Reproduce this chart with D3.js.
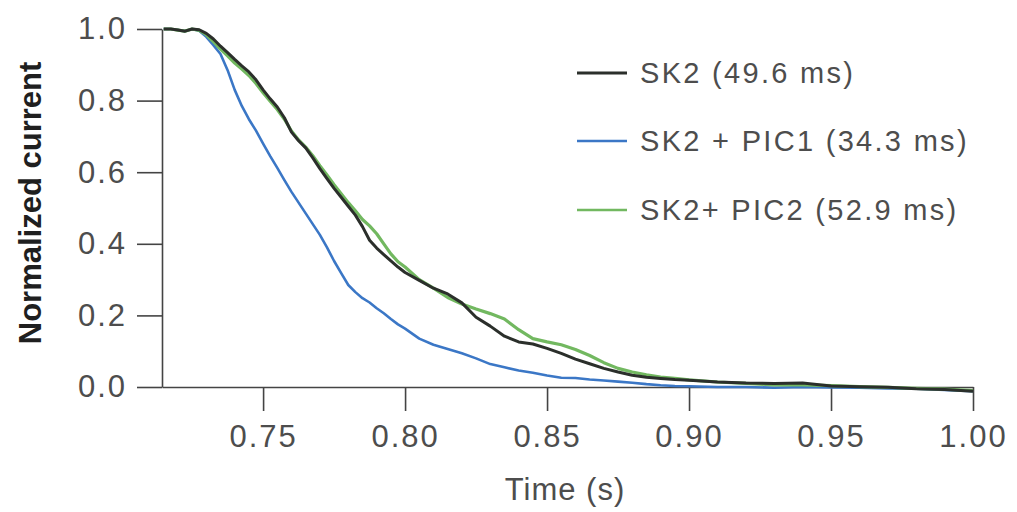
<!DOCTYPE html>
<html>
<head>
<meta charset="utf-8">
<script src="https://cdn.jsdelivr.net/npm/d3@7"></script>
<style>
  body { margin: 0; background: #fff; }
  .chart text { font-family: "Liberation Sans", Arial, sans-serif; fill: #4d4d4d; }
</style>
</head>
<body>
<div class="chart"></div>
<script>
// time points (s) shared by the three traces
const timePoints = [
  0.7150, 0.7175, 0.7200, 0.7225, 0.7250, 0.7275, 0.7300, 0.7325, 0.7350, 0.7375,
  0.7400, 0.7425, 0.7450, 0.7475, 0.7500, 0.7525, 0.7550, 0.7575, 0.7600, 0.7625,
  0.7650, 0.7675, 0.7700, 0.7725, 0.7750, 0.7775, 0.7800, 0.7825, 0.7850, 0.7875,
  0.7900, 0.7925, 0.7950, 0.7975, 0.8000,
  0.805, 0.810, 0.815, 0.820, 0.825, 0.830, 0.835, 0.840, 0.845, 0.850,
  0.855, 0.860, 0.865, 0.870, 0.875, 0.880, 0.885, 0.890, 0.895, 0.900,
  0.91, 0.92, 0.93, 0.94, 0.95, 0.96, 0.97, 0.98, 0.99, 1.00
];

const sk2Values = [
  1.000, 1.000, 0.997, 0.994, 1.000, 0.998, 0.988, 0.972, 0.952, 0.934,
  0.915, 0.897, 0.880, 0.858, 0.830, 0.805, 0.782, 0.752, 0.712, 0.688,
  0.668, 0.640, 0.610, 0.582, 0.555, 0.530, 0.505, 0.480, 0.448, 0.410,
  0.388, 0.370, 0.352, 0.335, 0.320,
  0.298, 0.276, 0.260, 0.235, 0.195, 0.170, 0.142, 0.126, 0.120, 0.108,
  0.094, 0.078, 0.065, 0.052, 0.042, 0.033, 0.027, 0.024, 0.021, 0.019,
  0.014, 0.011, 0.010, 0.011, 0.003, 0.001, -0.001, -0.005, -0.007, -0.012
];

const pic1Values = [
  1.000, 1.000, 0.997, 0.994, 1.000, 0.995, 0.978, 0.955, 0.930, 0.885,
  0.830, 0.785, 0.748, 0.716, 0.680, 0.645, 0.612, 0.578, 0.545, 0.515,
  0.485, 0.455, 0.425, 0.390, 0.352, 0.318, 0.285, 0.265, 0.248, 0.236,
  0.220, 0.206, 0.190, 0.175, 0.163,
  0.135, 0.118, 0.106, 0.094, 0.080, 0.064, 0.055, 0.046, 0.040, 0.032,
  0.026, 0.025, 0.021, 0.018, 0.015, 0.012, 0.008, 0.005, 0.003, 0.002,
  0.000, 0.000, -0.002, 0.000, -0.001, -0.002, -0.004, -0.005, -0.008, -0.012
];

const pic2Values = [
  1.000, 1.000, 0.997, 0.994, 1.000, 0.996, 0.984, 0.965, 0.944, 0.925,
  0.905, 0.888, 0.870, 0.848, 0.822, 0.798, 0.775, 0.748, 0.715, 0.690,
  0.670, 0.646, 0.618, 0.592, 0.565, 0.540, 0.515, 0.492, 0.468, 0.450,
  0.428, 0.400, 0.372, 0.350, 0.335,
  0.300, 0.276, 0.250, 0.232, 0.218, 0.205, 0.190, 0.160, 0.135, 0.126,
  0.118, 0.105, 0.088, 0.068, 0.052, 0.042, 0.034, 0.028, 0.024, 0.020,
  0.014, 0.010, 0.006, 0.006, 0.004, 0.001, -0.001, -0.004, -0.006, -0.010
];

const seriesLabels = ['SK2 (49.6 ms)', 'SK2 + PIC1 (34.3 ms)', 'SK2+ PIC2 (52.9 ms)'];
const seriesColors = ['#2b2f2b', '#3b77c6', '#72b860'];
const xTicks = [0.75, 0.80, 0.85, 0.90, 0.95, 1.00];
const yTicks = [0.0, 0.2, 0.4, 0.6, 0.8, 1.0];

class DecayChart {
  constructor() {
    this._width = 1017;
    this._height = 512;

    this.x = d3.scaleLinear().domain([0.7144, 1.0]).range([162, 973]);
    this.y = d3.scaleLinear().domain([0, 1]).range([387, 29]);

    this.svg = d3.select('.chart')
      .append('svg')
      .attr('width', this._width)
      .attr('height', this._height);
  }

  drawAxes() {
    const xAxis = this.svg.append('g')
      .attr('transform', `translate(0,${this.y(0)})`)
      .call(d3.axisBottom(this.x)
        .tickValues(xTicks)
        .tickFormat(d3.format('.2f'))
        .tickSizeInner(24)
        .tickSizeOuter(0)
        .tickPadding(14));

    const yAxis = this.svg.append('g')
      .attr('transform', `translate(${this.x.range()[0]},0)`)
      .call(d3.axisLeft(this.y)
        .tickValues(yTicks)
        .tickFormat(d3.format('.1f'))
        .tickSizeInner(25)
        .tickSizeOuter(0)
        .tickPadding(10));

    [xAxis, yAxis].forEach(g => {
      g.select('.domain').attr('stroke', '#444').attr('stroke-width', 1.6);
      g.selectAll('.tick line').attr('stroke', '#444').attr('stroke-width', 1.6);
      g.selectAll('.tick text')
        .attr('fill', '#4d4d4d')
        .style('font-size', '31px')
        .style('letter-spacing', '2px');
    });

    this.svg.append('text')
      .attr('x', 565)
      .attr('y', 500)
      .attr('text-anchor', 'middle')
      .style('font-size', '31px')
      .style('letter-spacing', '1px')
      .text('Time (s)');

    this.svg.append('text')
      .attr('transform', 'translate(41,203) rotate(-90)')
      .attr('text-anchor', 'middle')
      .style('font-size', '31px')
      .style('font-weight', 'bold')
      .style('fill', '#1f1f1f')
      .text('Normalized current');
    return this;
  }

  drawLines() {
    const line = d3.line()
      .x(d => this.x(d[0]))
      .y(d => this.y(d[1]));

    const traces = [
      { values: pic1Values, color: seriesColors[1], width: 2.6 },
      { values: pic2Values, color: seriesColors[2], width: 3.2 },
      { values: sk2Values, color: seriesColors[0], width: 3 }
    ];

    traces.forEach(t => {
      this.svg.append('path')
        .datum(timePoints.map((tp, i) => [tp, t.values[i]]))
        .attr('fill', 'none')
        .attr('stroke', t.color)
        .attr('stroke-width', t.width)
        .attr('stroke-linejoin', 'round')
        .attr('d', line);
    });
    return this;
  }

  drawLegend() {
    const rowY = [73, 141, 210];
    const legend = this.svg.append('g');
    seriesLabels.forEach((label, i) => {
      legend.append('line')
        .attr('x1', 577).attr('x2', 627)
        .attr('y1', rowY[i]).attr('y2', rowY[i])
        .attr('stroke', seriesColors[i])
        .attr('stroke-width', i === 0 ? 3 : 2.5);
      legend.append('text')
        .attr('x', 640)
        .attr('y', rowY[i] + 10)
        .style('font-size', '29px')
        .style('letter-spacing', '2.3px')
        .text(label);
    });
    return this;
  }

  draw() {
    this
      .drawAxes()
      .drawLines()
      .drawLegend();
    return this;
  }
}

new DecayChart().draw();
</script>
</body>
</html>
